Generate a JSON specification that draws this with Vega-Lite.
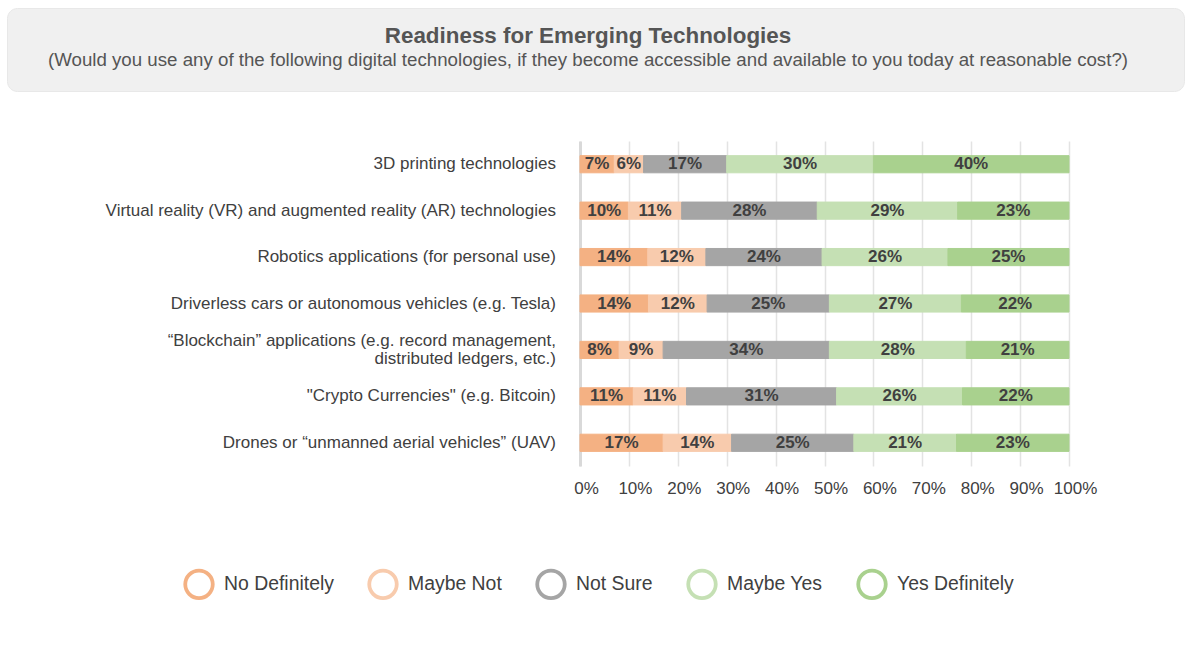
{
  "$schema": "https://vega.github.io/schema/vega-lite/v6.json",
  "padding": {"left": 6, "top": 7, "right": 0, "bottom": 0},
  "background": "#ffffff",
  "config": {"font": "Liberation Sans", "view": {"stroke": null}, "legend": {"symbolBaseFillColor": "transparent"}},
  "spacing": 49,
  "vconcat": [
    {
      "width": 1177,
      "height": 83,
      "view": {"fill": "#f0f0f0", "stroke": "#e8e8e8", "cornerRadius": 10},
      "data": {"values": [
        {"line": "Readiness for Emerging Technologies", "role": "title"},
        {"line": "(Would you use any of the following digital technologies, if they become accessible and available to you today at reasonable cost?)", "role": "sub"}
      ]},
      "layer": [
        {
          "transform": [{"filter": "datum.role === 'title'"}],
          "mark": {"type": "text", "fontSize": 22.4, "fontWeight": "bold", "color": "#555555", "dx": -7.5, "dy": -13.5},
          "encoding": {"text": {"field": "line"}}
        },
        {
          "transform": [{"filter": "datum.role === 'sub'"}],
          "mark": {"type": "text", "fontSize": 18.7, "color": "#555555", "dx": -7.5, "dy": 10.5},
          "encoding": {"text": {"field": "line"}}
        }
      ]
    },
    {
      "data": {"values": [
        {"tech": "3D printing technologies", "resp": "No Definitely", "k": 1, "pct": 7},
        {"tech": "3D printing technologies", "resp": "Maybe Not", "k": 2, "pct": 6},
        {"tech": "3D printing technologies", "resp": "Not Sure", "k": 3, "pct": 17},
        {"tech": "3D printing technologies", "resp": "Maybe Yes", "k": 4, "pct": 30},
        {"tech": "3D printing technologies", "resp": "Yes Definitely", "k": 5, "pct": 40},
        {"tech": "Virtual reality (VR) and augmented reality (AR) technologies", "resp": "No Definitely", "k": 1, "pct": 10},
        {"tech": "Virtual reality (VR) and augmented reality (AR) technologies", "resp": "Maybe Not", "k": 2, "pct": 11},
        {"tech": "Virtual reality (VR) and augmented reality (AR) technologies", "resp": "Not Sure", "k": 3, "pct": 28},
        {"tech": "Virtual reality (VR) and augmented reality (AR) technologies", "resp": "Maybe Yes", "k": 4, "pct": 29},
        {"tech": "Virtual reality (VR) and augmented reality (AR) technologies", "resp": "Yes Definitely", "k": 5, "pct": 23},
        {"tech": "Robotics applications (for personal use)", "resp": "No Definitely", "k": 1, "pct": 14},
        {"tech": "Robotics applications (for personal use)", "resp": "Maybe Not", "k": 2, "pct": 12},
        {"tech": "Robotics applications (for personal use)", "resp": "Not Sure", "k": 3, "pct": 24},
        {"tech": "Robotics applications (for personal use)", "resp": "Maybe Yes", "k": 4, "pct": 26},
        {"tech": "Robotics applications (for personal use)", "resp": "Yes Definitely", "k": 5, "pct": 25},
        {"tech": "Driverless cars or autonomous vehicles (e.g. Tesla)", "resp": "No Definitely", "k": 1, "pct": 14},
        {"tech": "Driverless cars or autonomous vehicles (e.g. Tesla)", "resp": "Maybe Not", "k": 2, "pct": 12},
        {"tech": "Driverless cars or autonomous vehicles (e.g. Tesla)", "resp": "Not Sure", "k": 3, "pct": 25},
        {"tech": "Driverless cars or autonomous vehicles (e.g. Tesla)", "resp": "Maybe Yes", "k": 4, "pct": 27},
        {"tech": "Driverless cars or autonomous vehicles (e.g. Tesla)", "resp": "Yes Definitely", "k": 5, "pct": 22},
        {"tech": "“Blockchain” applications (e.g. record management, \ndistributed ledgers, etc.)", "resp": "No Definitely", "k": 1, "pct": 8},
        {"tech": "“Blockchain” applications (e.g. record management, \ndistributed ledgers, etc.)", "resp": "Maybe Not", "k": 2, "pct": 9},
        {"tech": "“Blockchain” applications (e.g. record management, \ndistributed ledgers, etc.)", "resp": "Not Sure", "k": 3, "pct": 34},
        {"tech": "“Blockchain” applications (e.g. record management, \ndistributed ledgers, etc.)", "resp": "Maybe Yes", "k": 4, "pct": 28},
        {"tech": "“Blockchain” applications (e.g. record management, \ndistributed ledgers, etc.)", "resp": "Yes Definitely", "k": 5, "pct": 21},
        {"tech": "\"Crypto Currencies\" (e.g. Bitcoin)", "resp": "No Definitely", "k": 1, "pct": 11},
        {"tech": "\"Crypto Currencies\" (e.g. Bitcoin)", "resp": "Maybe Not", "k": 2, "pct": 11},
        {"tech": "\"Crypto Currencies\" (e.g. Bitcoin)", "resp": "Not Sure", "k": 3, "pct": 31},
        {"tech": "\"Crypto Currencies\" (e.g. Bitcoin)", "resp": "Maybe Yes", "k": 4, "pct": 26},
        {"tech": "\"Crypto Currencies\" (e.g. Bitcoin)", "resp": "Yes Definitely", "k": 5, "pct": 22},
        {"tech": "Drones or “unmanned aerial vehicles” (UAV)", "resp": "No Definitely", "k": 1, "pct": 17},
        {"tech": "Drones or “unmanned aerial vehicles” (UAV)", "resp": "Maybe Not", "k": 2, "pct": 14},
        {"tech": "Drones or “unmanned aerial vehicles” (UAV)", "resp": "Not Sure", "k": 3, "pct": 25},
        {"tech": "Drones or “unmanned aerial vehicles” (UAV)", "resp": "Maybe Yes", "k": 4, "pct": 21},
        {"tech": "Drones or “unmanned aerial vehicles” (UAV)", "resp": "Yes Definitely", "k": 5, "pct": 23}
      ]},
      "transform": [
        {"stack": "pct", "groupby": ["tech"], "sort": [{"field": "k", "order": "ascending"}], "offset": "normalize", "as": ["x0", "x1"]},
        {"calculate": "(datum.x0 + datum.x1) / 2", "as": "xm"},
        {"calculate": "datum.pct + '%'", "as": "lbl"}
      ],
      "spacing": 17,
      "hconcat": [
        {
          "width": 549,
          "height": 325,
          "encoding": {
            "y": {
              "field": "tech", "type": "nominal",
              "scale": {
                "domain": [
                  "3D printing technologies",
                  "Virtual reality (VR) and augmented reality (AR) technologies",
                  "Robotics applications (for personal use)",
                  "Driverless cars or autonomous vehicles (e.g. Tesla)",
                  "“Blockchain” applications (e.g. record management, \ndistributed ledgers, etc.)",
                  "\"Crypto Currencies\" (e.g. Bitcoin)",
                  "Drones or “unmanned aerial vehicles” (UAV)"
                ],
                "paddingInner": 0.63, "paddingOuter": 0.315
              },
              "axis": null
            },
            "x": {"datum": 1, "type": "quantitative", "scale": {"domain": [0, 1]}, "axis": null}
          },
          "layer": [
            {
              "transform": [{"filter": "datum.k === 1 && indexof(datum.tech, '\\n') < 0"}],
              "mark": {"type": "text", "align": "right", "fontSize": 17, "color": "#404040"},
              "encoding": {"text": {"field": "tech"}}
            },
            {
              "transform": [{"filter": "datum.k === 1 && indexof(datum.tech, '\\n') >= 0"}],
              "mark": {"type": "text", "align": "right", "fontSize": 17, "color": "#404040", "lineBreak": "\n", "lineHeight": 18, "dy": -9},
              "encoding": {"text": {"field": "tech"}}
            }
          ]
        },
        {
          "width": 489,
          "height": 325,
          "encoding": {
            "y": {
              "field": "tech", "type": "nominal",
              "scale": {
                "domain": [
                  "3D printing technologies",
                  "Virtual reality (VR) and augmented reality (AR) technologies",
                  "Robotics applications (for personal use)",
                  "Driverless cars or autonomous vehicles (e.g. Tesla)",
                  "“Blockchain” applications (e.g. record management, \ndistributed ledgers, etc.)",
                  "\"Crypto Currencies\" (e.g. Bitcoin)",
                  "Drones or “unmanned aerial vehicles” (UAV)"
                ],
                "paddingInner": 0.63, "paddingOuter": 0.315
              },
              "axis": {
                "title": null, "labels": false, "domain": true, "domainColor": "#d9d9d9", "domainWidth": 3,
                "ticks": false, "grid": false
              }
            }
          },
          "layer": [
            {
              "mark": {"type": "bar"},
              "encoding": {
                "x": {
                  "field": "x0", "type": "quantitative", "scale": {"domain": [0, 1], "nice": false},
                  "axis": {
                    "title": null, "values": [0, 0.1, 0.2, 0.3, 0.4, 0.5, 0.6, 0.7, 0.8, 0.9, 1],
                    "format": ".0%", "grid": true, "gridColor": "#e3e3e3", "gridWidth": 1.5,
                    "domain": false, "ticks": false, "labelFontSize": 17, "labelColor": "#404040",
                    "labelPadding": 14, "labelOverlap": false, "labelFlush": false, "labelOffset": 6
                  }
                },
                "x2": {"field": "x1"},
                "color": {
                  "field": "resp", "type": "nominal",
                  "scale": {
                    "domain": ["No Definitely", "Maybe Not", "Not Sure", "Maybe Yes", "Yes Definitely"],
                    "range": ["#F4B183", "#F8CBAD", "#A5A5A5", "#C5E0B4", "#A9D18E"]
                  },
                  "legend": null
                },
                "stroke": {
                  "field": "resp", "type": "nominal",
                  "sort": {"field": "k", "op": "min", "order": "ascending"},
                  "scale": {
                    "range": ["#F4B183", "#F8CBAD", "#A5A5A5", "#C5E0B4", "#A9D18E"]
                  },
                  "legend": {
                    "title": null, "orient": "none", "legendX": 176, "legendY": 560,
                    "direction": "horizontal", "symbolType": "circle", "symbolSize": 756,
                    "symbolStrokeWidth": 3.8, "symbolFillColor": "transparent",
                    "labelFontSize": 19.4, "labelColor": "#404040",
                    "labelOffset": 9, "columnPadding": 27
                  }
                }
              }
            },
            {
              "mark": {"type": "text", "fontWeight": "bold", "fontSize": 17, "color": "#404040"},
              "encoding": {
                "x": {"field": "xm", "type": "quantitative"},
                "text": {"field": "lbl"}
              }
            }
          ]
        }
      ]
    }
  ]
}
